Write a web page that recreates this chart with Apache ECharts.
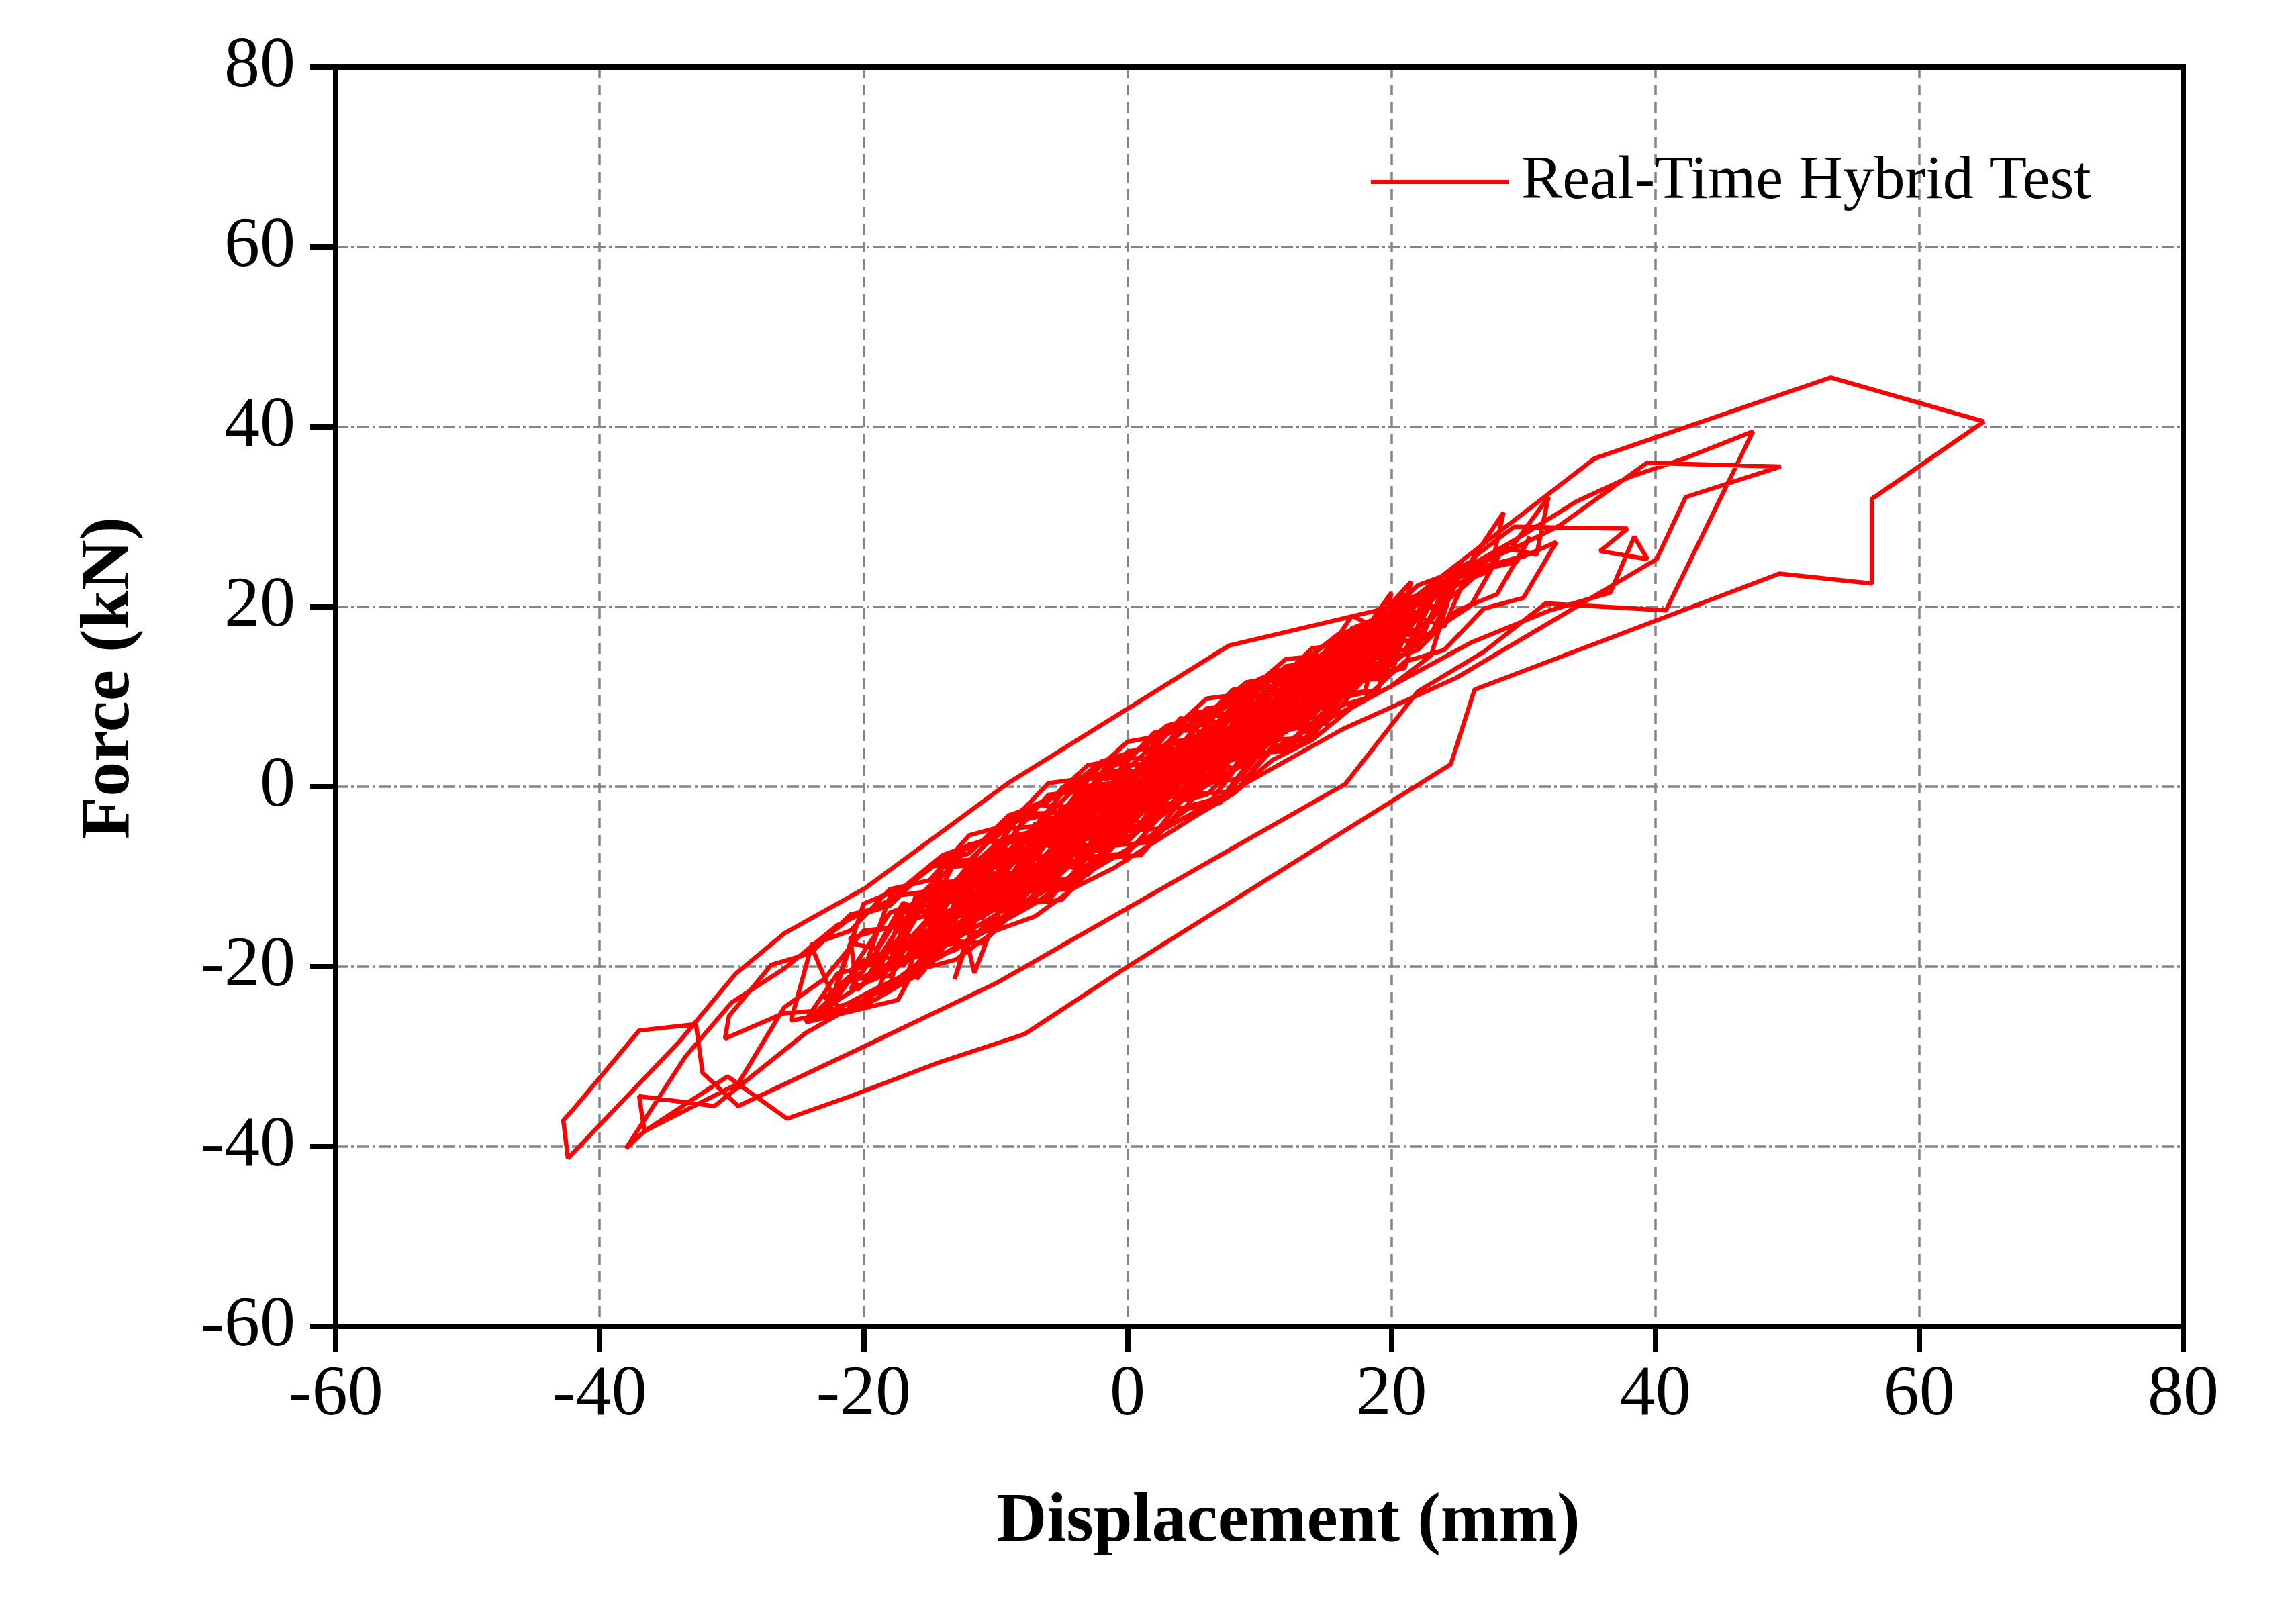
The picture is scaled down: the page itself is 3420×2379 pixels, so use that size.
<!DOCTYPE html>
<html>
<head>
<meta charset="utf-8">
<script src="https://cdn.jsdelivr.net/npm/echarts@6/dist/echarts.min.js"></script>
<style>
html,body{margin:0;padding:0;background:#ffffff;}
#chart{width:3420px;height:2379px;}
</style>
</head>
<body>
<div id="chart"></div>
<script>
// ---- axis settings ----
const xLimits = [-60, 80];
const yLimits = [-60, 80];
const tickStep = 20;
const seriesName = 'Real-Time Hybrid Test';
const xTitle = 'Displacement (mm)';
const yTitle = 'Force (kN)';

// ---- hysteresis path, [displacement (mm), force (kN)] ----
const cycle01 = [[0,-0.4],[2,1.5],[4,3.4],[2,0.1],[-1,-2.6],[-3,-2.5],[-6,-6.8],[-4,-2.6],[-1,-2.0],[1,1.9],[4,2.1],[6,6.3],[8,5.6],[10,9.6],[8,4.3],[6,4.6],[3,0.2],[1,0.6],[-2,-4.6],[-4,-3.9],[-7,-8.9],[-10,-11.6]];
const cycle02 = [[-8,-6.0],[-5,-5.3],[-3,-1.0],[0,-0.2],[2,3.4],[5,3.9],[7,7.4],[9,7.2],[11,10.9],[14,13.6],[12,8.1],[10,8.4],[8,3.6],[5,3.9],[3,-1.1],[0,-0.6],[-2,-5.9],[-5,-5.1],[-7,-10.0],[-10,-9.8],[-13,-14.3]];
const cycle03 = [[-11,-8.4],[-8,-8.0],[-6,-3.6],[-3,-3.9],[-1,0.8],[2,0.4],[4,4.9],[7,4.8],[9,9.3],[12,9.0],[14,13.5],[17,16.4],[15,10.2],[13,11.0],[10,5.4],[8,6.3],[5,0.9],[3,2.0],[0,-4.1],[-2,-3.0],[-5,-8.6],[-7,-7.4],[-10,-12.8],[-12,-11.6],[-15,-16.9]];
const cycle04 = [[-13,-10.3],[-10,-10.6],[-8,-5.4],[-5,-5.8],[-2,-0.4],[0,-1.2],[3,3.9],[5,3.1],[8,8.6],[10,7.8],[13,12.9],[15,12.0],[18,17.2],[20,19.3],[18,13.0],[16,14.1],[13,7.6],[11,9.0],[8,3.3],[6,4.4],[3,-1.4],[1,-0.2],[-2,-6.3],[-4,-5.1],[-7,-10.9],[-9,-9.5],[-12,-14.8],[-14,-13.6],[-16,-18.4],[-18,-19.6]];
const cycle05 = [[-15,-12.0],[-13,-12.9],[-10,-7.0],[-8,-8.3],[-5,-2.6],[-3,-3.8],[0,1.9],[2,0.7],[5,6.4],[7,5.3],[10,10.8],[12,9.6],[15,14.9],[17,13.6],[20,19.2],[22,21.0],[20,14.2],[18,15.3],[15,9.8],[13,10.8],[10,4.9],[8,6.2],[5,0.1],[3,1.6],[0,-5.0],[-2,-3.4],[-5,-9.4],[-7,-7.9],[-10,-13.6],[-12,-11.9],[-15,-17.6],[-17,-16.2],[-20,-21.8]];
const cycle06 = [[-18,-17.1],[-16,-13.0],[-14,-13.7],[-11,-8.2],[-9,-9.1],[-6,-3.9],[-4,-4.9],[-1,0.2],[1,-0.9],[4,4.6],[6,3.5],[9,8.9],[11,7.7],[14,12.9],[16,11.9],[19,17.8],[17,11.5],[15,12.6],[12,6.9],[10,8.2],[7,2.2],[5,3.7],[2,-2.6],[0,-1.1],[-3,-7.5],[-5,-6.0],[-8,-12.0],[-10,-10.4],[-13,-16.2],[-15,-14.5],[-18,-20.3],[-20,-19.3],[-22.7,-24.9]];
const cycle07 = [[-21,-17.4],[-19,-18.0],[-17,-12.9],[-15,-14.2],[-12,-8.6],[-10,-9.9],[-7,-4.1],[-5,-5.6],[-2,0.3],[0,-1.2],[3,4.6],[5,3.0],[8,8.9],[10,7.4],[13,13.2],[15,11.9],[18,17.6],[20,16.5],[22,20.9],[24,22.2],[22,15.6],[20,16.9],[17,11.0],[15,12.4],[12,6.0],[10,7.6],[7,1.4],[5,3.0],[2,-3.2],[0,-1.6],[-3,-8.1],[-5,-6.5],[-8,-12.6],[-10,-11.0],[-13,-17.0],[-15,-15.8],[-18,-21.0],[-21,-21.4],[-24.4,-26.2]];
const cycle08 = [[-17.4,-23.7],[-15.8,-19.4],[-14,-16.2],[-12,-9.4],[-10,-10.6],[-7,-4.6],[-5,-6.1],[-2,-0.2],[0,-1.8],[3,4.2],[5,2.6],[8,8.4],[10,6.9],[13,12.7],[15,11.3],[18,17.0],[20,15.9],[23,21.3],[26,24.6],[24,17.8],[22,18.9],[19,12.6],[17,13.8],[14,7.7],[12,9.0],[9,3.0],[7,4.3],[4,-1.5],[2,-0.1],[-1,-6.3],[-3,-4.9],[-6,-10.9],[-8,-9.5],[-10,-14.6],[-11.6,-20.7],[-12.2,-17.0],[-13.1,-21.4]];
const cycle09 = [[-11,-12.4],[-9,-7.6],[-7,-7.9],[-4,-2.4],[-2,-3.6],[1,1.9],[3,0.6],[6,6.2],[8,4.9],[11,10.4],[13,9.3],[16,14.6],[18,13.4],[21,18.4],[19,13.6],[17,14.2],[14,9.2],[12,10.0],[9,4.6],[7,5.6],[4,0.3],[2,1.2],[-1,-4.7],[-3,-3.6],[-6,-9.4],[-8,-8.1],[-11,-14.2],[-13,-13.0],[-16,-18.6],[-19,-21.0]];
const cycle10 = [[-17,-14.0],[-14,-13.6],[-12,-8.9],[-9,-9.0],[-7,-4.2],[-4,-4.6],[-2,0.0],[1,-0.5],[3,4.1],[6,3.7],[8,8.2],[11,7.9],[13,12.3],[16,11.9],[18,16.9],[16,10.4],[14,11.3],[11,5.3],[9,6.5],[6,0.6],[4,1.9],[1,-4.0],[-1,-2.6],[-4,-8.6],[-6,-7.2],[-9,-12.7],[-11,-11.3],[-14,-16.3],[-16,-17.6]];
const cycle11 = [[-14,-11.2],[-12,-11.5],[-10,-6.9],[-7,-7.2],[-5,-2.3],[-2,-2.8],[0,1.6],[3,1.3],[5,5.6],[8,5.1],[10,9.6],[13,9.2],[15,13.5],[18,13.2],[20,17.6],[23,20.4],[21,15.1],[19,15.6],[16,10.0],[14,11.1],[11,4.8],[9,6.0],[6,0.2],[4,1.3],[1,-4.6],[-1,-3.4],[-4,-9.1],[-6,-7.9],[-9,-13.2],[-11,-12.3],[-14,-17.5],[-16,-16.6],[-19,-21.3],[-21,-22.5]];
const cycle12 = [[-19,-18.3],[-17,-13.6],[-15,-14.0],[-12,-9.1],[-10,-9.7],[-7,-4.7],[-5,-5.2],[-2,-0.5],[0,-1.0],[3,3.9],[5,3.2],[8,8.0],[10,7.3],[13,12.2],[15,14.3],[13,8.7],[11,9.4],[8,3.9],[6,5.0],[3,-0.5],[1,0.6],[-2,-4.8],[-4,-3.7],[-7,-9.0],[-9,-8.0],[-12,-13.4]];
const cycle13 = [[-10,-7.6],[-8,-8.6],[-6,-3.4],[-3,-4.4],[-1,0.6],[2,-0.4],[4,4.9],[7,3.9],[9,9.3],[12,8.3],[14,13.6],[17,12.6],[19,17.5],[22,16.7],[25,23.4],[23,16.9],[21,17.4],[18,11.8],[16,12.9],[13,6.8],[11,8.0],[8,2.0],[6,3.3],[3,-2.6],[1,-1.3],[-2,-7.3],[-4,-5.9],[-7,-11.6],[-9,-10.3],[-12,-15.8],[-14,-14.3],[-17,-19.9],[-19,-18.4],[-23,-23.6]];
const wide01 = [[-20,-20.5],[-18,-12.2],[-15,-11.6],[-12,-6.4],[-9,-5.9],[-6,-0.9],[-3,-0.4],[0,3.9],[3,4.6],[6,8.7],[9,9.4],[12,13.4],[15,14.0],[18,18.2],[21,19.2],[23,22.5],[21,13.2],[18,12.1],[15,7.0],[12,6.3],[9,1.0],[6,0.4],[3,-4.6],[0,-4.9],[-3,-9.8],[-6,-10.6],[-9,-14.4],[-12,-15.7],[-15,-18.6],[-18,-22.0]];
const wide02 = [[-16,-11.9],[-13,-10.6],[-10,-4.8],[-7,-4.4],[-4,1.0],[-1,1.2],[2,6.0],[5,6.3],[8,10.8],[11,11.2],[14,15.4],[17,16.0],[20,20.4],[22,21.3],[20,12.6],[17,11.4],[14,5.6],[11,4.2],[8,-0.8],[5,-2.0],[2,-5.2],[-1,-7.8],[-4,-10.1],[-7,-12.9],[-10,-14.8],[-13,-18.1],[-16,-19.8],[-19,-23.0]];
const wide03 = [[-17,-15.6],[-14,-9.0],[-11,-8.6],[-8,-3.0],[-5,-2.9],[-2,2.6],[1,2.4],[4,7.6],[7,7.2],[10,12.0],[13,11.6],[16,16.8],[18,17.4],[20,21.6],[18,10.6],[15,10.0],[12,4.0],[9,3.6],[6,-2.2],[3,-2.4],[0,-7.4],[-3,-7.8],[-6,-12.6],[-9,-12.8],[-12,-17.2],[-15,-17.8],[-17,-22.2]];
const wide04 = [[-15,-13.6],[-13,-8.2],[-10,-8.0],[-7,-2.0],[-4,-2.3],[-1,3.4],[2,3.0],[5,8.4],[8,8.0],[11,13.0],[14,12.8],[17,17.6],[19,18.8],[21.5,22.8],[19.5,12.0],[16.5,11.8],[13.5,5.4],[10.5,5.2],[7.5,-0.6],[4.5,-0.8],[1.5,-6.2],[-1.5,-6.6],[-4.5,-11.4],[-7.5,-11.6],[-10.5,-16.0],[-13.5,-16.4],[-16,-21.0]];
const wide05 = [[-20,-24.4],[-25.5,-26.0],[-24,-18.0],[-21,-14.6],[-18,-13.2],[-15,-8.8],[-12,-7.4],[-9,-3.2],[-6,-1.6],[-3,2.4],[0,3.2],[3,6.8],[6,8.0],[9,11.6],[12,12.4],[15,15.8],[18,16.6],[20,19.4],[18,12.8],[15,9.4],[12,7.4],[9,4.2],[6,2.0],[3,-1.4],[0,-3.6],[-3,-6.8],[-6,-8.8],[-9,-11.8],[-12,-13.6],[-15,-16.6],[-18,-18.2],[-21,-20.6]];
const wide06 = [[-18,-14.0],[-14,-11.8],[-10,-6.4],[-6,-4.8],[-2,0.8],[2,1.8],[6,6.6],[10,8.4],[14,13.2],[18,15.2],[21,19.0],[24,20.4],[27,24.2],[29.5,25.0],[30.5,27.8],[28,21.4],[25,19.6],[22,15.2],[19,13.8],[16,9.6],[13,8.0],[10,3.8],[7,2.6],[4,-1.6],[1,-2.8],[-2,-6.8],[-5,-8.0],[-8,-11.8],[-11,-13.0],[-14,-16.6],[-17,-18.2],[-20.5,-22.6]];
const loopD = [[-21,-16.8],[-18,-15.6],[-15,-11.0],[-12,-10.2],[-9,-5.6],[-6,-4.6],[-3,0.1],[0,0.6],[3,4.9],[6,5.6],[9,9.9],[12,10.8],[15,14.7],[18,15.9],[21,20.2],[24,21.4],[26.5,25.8],[29.3,28.9],[37.9,28.7],[35.8,26.2],[39.4,25.3],[38.4,27.8],[36.6,21.6],[32.0,19.6],[26,16.0],[20,11.2],[14,6.6],[8,1.8],[2,-3.2],[-4,-8.4],[-10,-13.6],[-16,-18.6],[-20,-21.9],[-24.4,-26.0]];
const loopE = [[-22,-20.8],[-19,-19.6],[-16,-14.6],[-13,-13.6],[-10,-8.4],[-7,-7.8],[-4,-2.4],[-1,-2.0],[2,3.6],[5,3.9],[8,9.1],[11,9.3],[14,14.3],[17,14.8],[20,19.6],[23,20.6],[26,24.7],[29,26.4],[31.9,32.2],[31.0,25.8],[28.5,26.6],[26,20.1],[23,17.2],[20,13.6],[17,11.5],[14,8.0],[11,5.6],[8,2.1],[5,-0.6],[2,-3.9],[-1,-6.4],[-4,-9.7],[-7,-12.2],[-10,-15.3],[-13,-17.8],[-16,-20.3],[-19,-22.4],[-22,-24.7],[-26.1,-25.2]];
const loopF = [[-30.5,-28.0],[-30.2,-25.5],[-27,-19.8],[-24,-18.5],[-21,-14.2],[-18,-13.2],[-15,-8.9],[-12,-8.2],[-9,-4.0],[-6,-3.1],[-3,1.2],[0,2.0],[3,6.0],[6,7.0],[9,11.0],[12,12.2],[15,15.8],[18,17.2],[21,20.6],[24,22.2],[27,25.0],[30,27.0],[32.7,29.0],[39.35,36.0],[49.5,35.6],[42.3,32.2],[40.1,25.3],[24.9,12.1],[16.3,6.4],[8,-0.4],[0,-7.0],[-8,-13.8],[-16,-20.4],[-24.4,-27.4],[-31.3,-35.5],[-37,-34.4]];
const loopB = [[-36.6,-38.3],[-38.0,-40.2],[-33.5,-30.0],[-30,-24.0],[-26,-20.2],[-22,-15.4],[-18,-12.6],[-14,-8.0],[-10,-5.6],[-6,-1.2],[-2,1.4],[2,5.2],[6,7.8],[10,11.4],[14,14.0],[18,17.8],[22,21.2],[26,24.6],[30,28.0],[34,31.7],[38,34.4],[42.4,36.6],[47.4,39.5],[40.8,19.6],[31.7,20.4],[27,15.0],[22,10.6],[16.5,0.3],[8,-6.8],[0,-13.5],[-9.9,-21.8],[-20,-28.9],[-29.5,-35.5],[-32.2,-31.8],[-32.7,-26.4],[-37.0,-27.1],[-41.9,-35.7],[-42.75,-37.1],[-42.4,-41.3]];
const loopA = [[-34,-28.4],[-29.7,-20.8],[-26.0,-16.3],[-19.9,-11.3],[-9.0,0.45],[7.7,15.7],[18.9,19.6],[21.5,20.8],[35.4,36.5],[53.3,45.5],[64.9,40.6],[56.4,32.0],[56.4,22.6],[49.4,23.7],[26.3,10.8],[24.5,2.5],[0,-20.0],[-7.8,-27.5],[-14.2,-30.6],[-21,-34.4],[-25.8,-36.9],[-30.3,-32.2],[-36.6,-38.3],[-29.5,-33.0]];
const cycle14 = [[-26,-24.5],[-23,-21.4],[-20,-16.0],[-17,-15.5],[-14,-10.6],[-11,-10.4],[-8,-5.5],[-5,-5.4],[-2,-0.6],[1,-0.4],[4,4.2],[7,4.4],[10,9.0],[13,9.4],[16,13.9],[19,14.5],[22,19.4],[24.6,23.6],[22,16.2],[20,16.3],[17,12.0],[15,12.0],[12,7.5],[10,7.6],[7,3.1],[5,3.2],[2,-1.3],[0,-1.2],[-3,-5.8],[-5,-5.8],[-8,-10.3],[-10,-10.2],[-13,-14.6],[-15,-14.5],[-18,-19.2]];
const loopG = [[-15,-11.6],[-12,-10.9],[-9,-6.0],[-6,-5.3],[-3,-0.6],[0,0.2],[3,4.6],[6,5.4],[9,9.6],[12,10.6],[15,14.6],[18,15.8],[21,19.9],[24,21.4],[27,24.5],[30,25.6],[32.5,27.2],[30,21.0],[27,19.8],[24,15.2],[21,13.9],[18,9.8],[15,8.5],[12,4.4],[9,3.3],[6,-0.9],[3,-1.9],[0,-6.1],[-3,-6.9],[-6,-11.0],[-9,-11.6],[-12,-15.4],[-15,-15.9]];
const loopH = [[-12,-8.4],[-9,-8.0],[-6,-2.9],[-3,-2.6],[0,2.4],[3,2.7],[6,7.8],[9,8.0],[12,12.9],[15,13.2],[18,18.0],[21,18.8],[24,23.6],[26,25.0],[28.5,30.5],[27.5,24.0],[25,22.6],[23,18.5],[20,16.0],[17,12.0],[14,10.2],[11,5.6],[8,4.1],[5,-0.4],[2,-1.6],[-1,-6.0],[-4,-6.8],[-7,-11.1],[-10,-11.6],[-13,-15.5],[-15,-15.8]];
const cycle15 = [[-15,-11.8],[-12,-11.3],[-9,-6.2],[-6,-6.2],[-3,-1.0],[0,-1.6],[3,3.8],[6,3.2],[9,8.7],[12,8.0],[14,12.8],[16,11.6],[17.5,16.8],[19,14.2],[20.5,20.8],[19,12.6],[17,14.0],[15,9.0],[13,10.2],[10,4.4],[8,5.8],[5,0.0],[3,1.5],[0,-4.8],[-2,-3.2],[-5,-9.2],[-7,-7.8],[-10,-13.1],[-12,-12.2],[-14,-15.7]];
const cycle16 = [[-12,-9.6],[-10,-9.8],[-8,-5.2],[-5,-5.7],[-3,-1.2],[0,-1.9],[2,3.4],[5,2.6],[7,7.5],[10,6.9],[12,11.8],[14,10.8],[16,15.6],[14,9.1],[12,9.6],[9,4.0],[7,5.3],[4,-0.9],[2,0.4],[-1,-5.4],[-3,-4.0],[-6,-9.9],[-8,-8.6],[-11,-12.9]];
const cycle17 = [[-9,-7.4],[-7,-7.5],[-4,-2.0],[-2,-2.7],[1,2.5],[3,1.7],[6,6.8],[8,5.9],[11,10.9],[13,10.2],[16,15.3],[18,14.1],[21,19.9],[19,13.4],[17,13.9],[14,8.6],[12,9.6],[9,3.5],[7,4.8],[4,-1.3],[2,0.1],[-1,-5.8],[-3,-4.4],[-6,-10.4],[-8,-9.0],[-11,-14.6],[-13,-13.2],[-16,-18.8]];
const cycle18 = [[-14,-12.6],[-12,-9.0],[-9,-8.9],[-7,-4.4],[-4,-4.7],[-2,-0.2],[1,-0.6],[3,3.9],[6,3.7],[8,8.2],[10,7.8],[13,12.6],[11,7.0],[9,7.3],[6,2.0],[4,3.0],[1,-2.7],[-1,-1.6],[-4,-7.0],[-6,-6.0],[-8,-10.0]];
const cycle19 = [[-6,-4.0],[-3,-3.6],[-1,0.3],[2,0.1],[4,4.1],[7,4.3],[9,8.8],[7,3.0],[5,3.6],[2,-1.2],[0,-0.4],[-3,-4.9],[-5,-6.4],[-2,-2.0],[0,-0.6]];
const broad01 = [[-8,-12.5],[-14,-17.8],[-22,-22.2],[-20,-13.0],[-17,-11.2],[-14,-7.6],[-11,-6.0],[-8,-2.6],[-5,-0.8],[-2,2.8],[1,4.2],[4,7.4],[7,9.0],[10,12.0],[13,13.6],[16,17.0],[19,18.2],[22,22.4],[25,24.0],[23,14.6],[20,11.2],[17,8.8],[14,5.2],[11,3.0],[8,-0.8],[5,-3.4],[2,-6.2],[-1,-9.0],[-4,-11.2],[-7,-14.4],[-10,-16.0],[-13,-19.2],[-16,-20.4],[-19,-23.6],[-22,-24.4]];
const broad02 = [[-24,-17.6],[-21,-16.0],[-18,-11.4],[-15,-10.4],[-12,-5.4],[-9,-4.2],[-6,0.4],[-3,1.0],[0,5.0],[3,5.8],[6,9.8],[9,10.4],[12,14.2],[15,14.6],[17,19.0],[19,17.6],[21,21.6],[19,10.8],[16,9.8],[13,4.6],[10,3.6],[7,-1.8],[4,-2.6],[1,-7.6],[-2,-8.0],[-5,-12.6],[-8,-13.0],[-11,-17.4],[-14,-17.0],[-16,-21.4],[-12,-14.6],[-8,-10.2],[-4,-5.9],[0,-1.8]];

const pathData = [].concat(
  cycle01, cycle02, cycle03, cycle04, cycle05, cycle06, cycle07, cycle08,
  cycle09, cycle10, cycle11, cycle12, cycle13,
  wide01, wide02, wide03, wide04, wide05, wide06,
  loopD, loopE, loopF, loopB, loopA,
  cycle14, loopG, loopH, cycle15, cycle16, cycle17, cycle18, cycle19,
  broad01, broad02
);

const FONT = 'Liberation Serif';
const chart = echarts.init(document.getElementById('chart'), null, {renderer: 'canvas'});

const frameLine = {show: true, onZero: false, lineStyle: {color: '#000', width: 8, cap: 'square'}};
const hidden = {show: false};

chart.setOption({
  animation: false,
  backgroundColor: '#ffffff',
  grid: {left: 500, right: 168, top: 100, bottom: 403, show: false},
  legend: {
    show: true,
    data: [{name: seriesName, icon: 'rect'}],
    left: 2037,
    top: 220,
    itemWidth: 205,
    itemHeight: 6,
    itemGap: 0,
    itemStyle: {color: '#ff0000', borderWidth: 0},
    textStyle: {fontFamily: FONT, fontSize: 92, color: '#000', padding: [0, 0, 0, 14]}
  },
  xAxis: [{
    type: 'value', min: xLimits[0], max: xLimits[1], interval: tickStep,
    position: 'bottom',
    axisLine: frameLine,
    axisTick: {show: true, inside: false, length: 38, lineStyle: {color: '#000', width: 8}},
    axisLabel: {fontFamily: FONT, fontSize: 106, color: '#000', margin: 50},
    splitLine: {show: true, lineStyle: {color: '#858585', width: 3.5, type: [16, 10]}},
    name: xTitle,
    nameLocation: 'middle',
    nameGap: 240,
    nameTextStyle: {fontFamily: FONT, fontSize: 104, fontWeight: 'bold', color: '#000', padding: [0, 0, 0, 86]}
  }, {
    type: 'value', min: xLimits[0], max: xLimits[1], interval: tickStep,
    position: 'top',
    axisLine: frameLine, axisTick: hidden, axisLabel: hidden, splitLine: hidden
  }],
  yAxis: [{
    type: 'value', min: yLimits[0], max: yLimits[1], interval: tickStep,
    position: 'left',
    axisLine: frameLine,
    axisTick: {show: true, inside: false, length: 38, lineStyle: {color: '#000', width: 8}},
    axisLabel: {fontFamily: FONT, fontSize: 106, color: '#000', margin: 60},
    splitLine: {show: true, lineStyle: {color: '#858585', width: 3.5, type: [18, 5, 4, 5]}},
    name: yTitle,
    nameLocation: 'middle',
    nameGap: 284,
    nameTextStyle: {fontFamily: FONT, fontSize: 104, fontWeight: 'bold', color: '#000', padding: [0, 0, 0, 56]}
  }, {
    type: 'value', min: yLimits[0], max: yLimits[1], interval: tickStep,
    position: 'right',
    axisLine: frameLine, axisTick: hidden, axisLabel: hidden, splitLine: hidden
  }],
  series: [{
    name: seriesName,
    type: 'line',
    xAxisIndex: 0,
    yAxisIndex: 0,
    data: pathData,
    showSymbol: false,
    symbol: 'none',
    smooth: false,
    clip: true,
    silent: true,
    lineStyle: {color: '#ff0000', width: 6.5},
    itemStyle: {color: '#ff0000'}
  }]
});
</script>
</body>
</html>
